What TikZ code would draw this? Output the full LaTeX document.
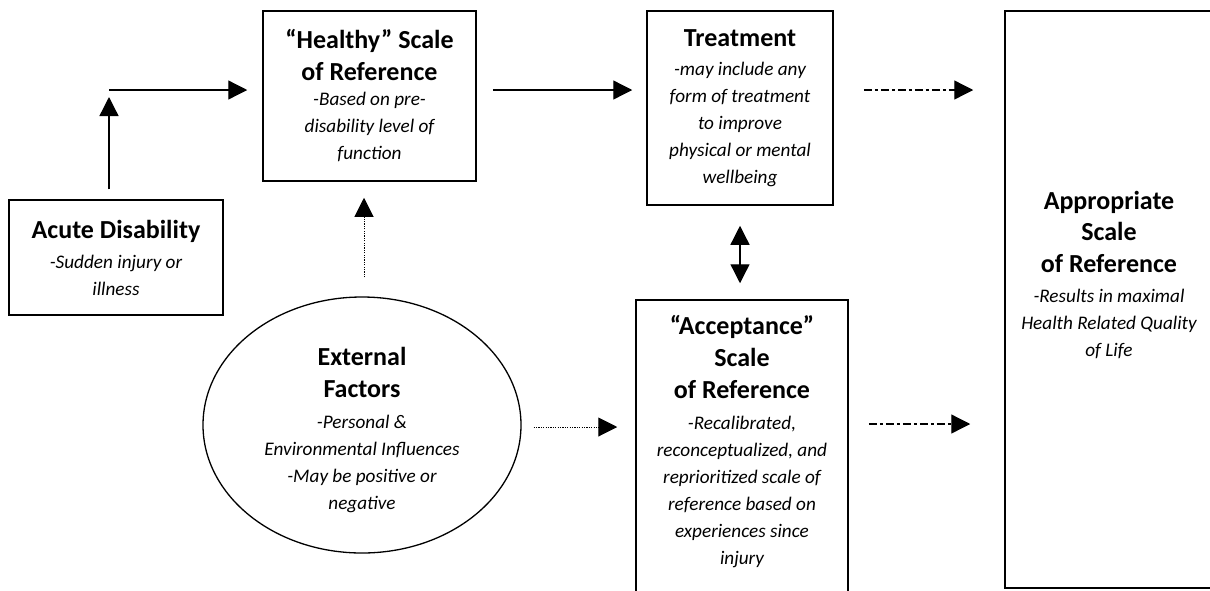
\documentclass[tikz,border=0pt]{standalone}
\usepackage{fontspec}
\setmainfont{Carlito}
\usetikzlibrary{arrows.meta,shapes.geometric}

% fonts for the box titles and the italic notes
\newcommand{\ttlfont}{\fontsize{26}{32}\selectfont\bfseries\upshape}
\newcommand{\dscfont}{\fontsize{19.2}{27}\selectfont\itshape}

\begin{document}
\begin{tikzpicture}[x=1pt,y=-1pt,
    box/.style={draw,line width=1.5pt,align=center,font=\dscfont,inner sep=0pt},
    txt/.style={align=center,font=\dscfont,inner sep=0pt},
    arr/.style={line width=1.3pt,-{Triangle[length=19pt,width=19pt]}},
    twoarr/.style={line width=1.3pt,{Triangle[length=19pt,width=19pt]}-{Triangle[length=19pt,width=19pt]}},
    dotarr/.style={line width=1pt,dash pattern=on 1.2pt off 1.2pt,-{Triangle[length=19pt,width=19pt]}},
    dasharr/.style={line width=1.3pt,dash pattern=on 8pt off 3pt on 3pt off 3pt,-{Triangle[length=19pt,width=19pt]}}
]
    \useasboundingbox (0,0) rectangle (1210,590);
    \clip (0,0) rectangle (1210,590);

    % The boxes
    \node[box,minimum width=214pt,minimum height=115pt] (acute) at (116,257.5)
        {\ttlfont Acute Disability\\[3pt] -Sudden injury or\\ illness};
    \node[box,minimum width=213pt,minimum height=170pt] (healthy) at (369.5,96)
        {\ttlfont ``Healthy'' Scale\\[5pt] \ttlfont of Reference\\[-2pt] -Based on pre-\\ disability level of\\ function};
    \node[box,minimum width=186pt,minimum height=194pt] (treatment) at (740,108)
        {\ttlfont Treatment\\[2pt] -may include any\\ form of treatment\\ to improve\\ physical or mental\\ wellbeing};
    \node[box,ellipse,line width=1.3pt,minimum width=318pt,minimum height=256pt] (external) at (362,425) {};
    \node[txt] (externaltext) at (362,430)
        {\ttlfont External\\[5pt] \ttlfont Factors\\[4pt] -Personal \&\\ Environmental Influences\\ -May be positive or\\ negative};

    % These two run off the page
    \node[box,minimum width=212pt,minimum height=300pt] (accept) at (742,450) {};
    \node[txt] (accepttext) at (742,442)
        {\ttlfont ``Acceptance''\\[5pt] \ttlfont Scale\\[5pt] \ttlfont of Reference\\[4pt] -Recalibrated,\\ reconceptualized, and\\ reprioritized scale of\\ reference based on\\ experiences since\\ injury};
    \node[box,minimum width=208pt,minimum height=577pt] (approp) at (1109,299.5) {};
    \node[txt] (approptext) at (1109,275)
        {\ttlfont Appropriate\\[4pt] \ttlfont Scale\\[5pt] \ttlfont of Reference\\[3pt] -Results in maximal\\ Health Related Quality\\ of Life};

    % The arrows
    \coordinate (corner) at (109,90);
    \draw[arr,shorten <=10pt,shorten >=7pt] (acute.north -| corner) -- (corner);
    \draw[arr,shorten >=15pt] (corner) -- (corner -| healthy.west);
    \draw[arr,shorten <=16pt,shorten >=14pt] (healthy.east |- corner) -- (treatment.west |- corner);
    \draw[dasharr,shorten <=30pt,shorten >=31pt] (treatment.east |- corner) -- (approp.west |- corner);
    \draw[twoarr,shorten <=20pt,shorten >=16pt] (treatment.south) -- (treatment.south |- accept.north);
    \draw[dotarr,shorten <=19pt,shorten >=16pt] ([xshift=2pt]external.north) -- ([xshift=2pt]external.north |- healthy.south);
    \draw[dotarr,shorten <=12pt,shorten >=18pt] ([yshift=-2pt]external.east) -- ([yshift=-2pt]external.east -| accept.west);
    \draw[dasharr,shorten <=20pt,shorten >=34pt] (accept.east |- 0,424) -- (approp.west |- 0,424);
\end{tikzpicture}
\end{document}
